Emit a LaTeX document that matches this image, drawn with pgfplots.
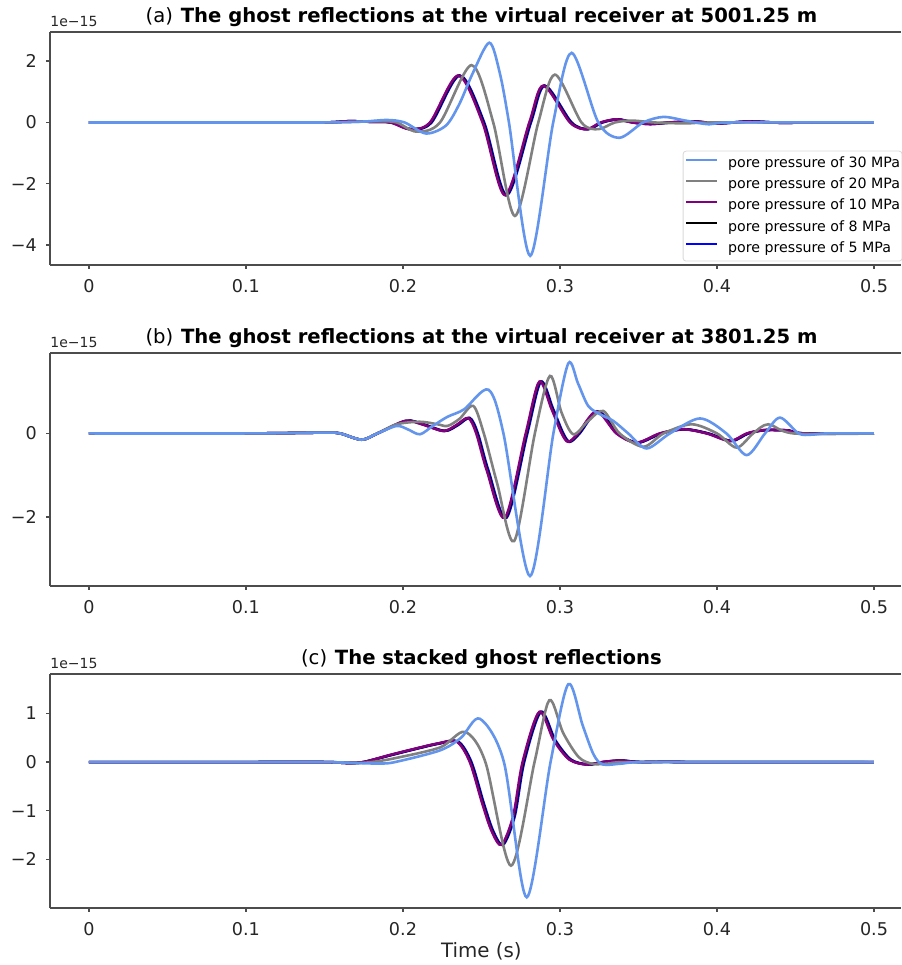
\documentclass[border=0pt]{standalone}
\usepackage{fontspec}
\setmainfont{DejaVu Sans}
\usepackage{pgfplots}
\pgfplotsset{compat=1.18}
\definecolor{cA}{RGB}{100,149,237}
\definecolor{cB}{RGB}{128,128,128}
\definecolor{cC}{RGB}{128,0,128}
\definecolor{cD}{RGB}{0,0,0}
\definecolor{cE}{RGB}{0,0,255}
\pgfplotsset{
  gw/.style={
    scale only axis, width=425.5pt, height=116.5pt,
    xmin=-0.0248, xmax=0.5172,
    axis x line*=box, axis y line*=left,
    xtick pos=left,
    tick align=outside, major tick length=1.8pt,
    axis line style={black!70, line width=0.7pt},
    every tick/.style={black!70, line width=0.7pt},
    xtick={0,0.1,0.2,0.3,0.4,0.5}, xticklabels={0,0.1,0.2,0.3,0.4,0.5},
    ticklabel style={font=\fontsize{8.8}{10}\selectfont, text=black!85},
    xticklabel style={yshift=-1.7pt},
    yticklabel style={xshift=-1.2pt},
    every axis plot/.append style={line width=1.3pt, smooth},
    clip mode=individual,
    every axis title shift=0pt,
    title style={at={(0.507,1)}, anchor=base, yshift=4.65pt, font=\fontsize{9.8}{11}\selectfont},
  }
}
\begin{document}
\begin{tikzpicture}
%% ---------------- (a)
\begin{axis}[gw, at={(25pt,350pt)}, anchor=south west,
  ymin=-4.65, ymax=2.95, ytick={-4,-2,0,2}, yticklabels={−4,−2,0,2},
  title={(a)\hspace{0.4em}\textbf{The ghost reflections at the virtual receiver at 5001.25 m}},
  reverse legend, legend cell align=left,
  legend style={at={(0.7435,0.4906)}, anchor=north west, draw=black!15, rounded corners=1.5pt, fill=white,
    font=\fontsize{7.1}{8}\selectfont, inner xsep=1pt, inner ysep=3pt, row sep=4pt, column sep=5pt,
    nodes={inner sep=0pt, text height=5.2pt, text depth=1.4pt}},
  legend image code/.code={\draw[#1, line width=1pt] (0pt,2pt) -- (15.5pt,2pt);}
]
\addplot[cE] coordinates {(0,0)(0.1,0)(0.15,0)(0.166,0.04)(0.181,0.02)(0.193,0)(0.2055,-0.22)(0.2182,0)(0.2362,1.53)(0.2517,0)(0.266,-2.37)(0.2815,0)(0.2904,1.2)(0.3074,0)(0.318,-0.22)(0.327,0)(0.337,0.1)(0.347,0)(0.358,-0.05)(0.371,0)(0.386,0.03)(0.401,-0.03)(0.421,0.03)(0.441,-0.01)(0.461,0)(0.5,0)};
\addlegendentry{pore pressure of 5 MPa}
\addplot[cD] coordinates {(0,0)(0.1,0)(0.15,0)(0.1655,0.04)(0.1805,0.02)(0.1925,0)(0.205,-0.22)(0.2177,0)(0.2357,1.53)(0.2512,0)(0.2655,-2.37)(0.281,0)(0.2899,1.2)(0.3069,0)(0.3175,-0.22)(0.3265,0)(0.3365,0.1)(0.3465,0)(0.3575,-0.05)(0.3705,0)(0.3855,0.03)(0.4005,-0.03)(0.4205,0.03)(0.4405,-0.01)(0.4605,0)(0.5,0)};
\addlegendentry{pore pressure of 8 MPa}
\addplot[cC] coordinates {(0,0)(0.1,0)(0.15,0)(0.165,0.04)(0.18,0.02)(0.192,0)(0.2045,-0.22)(0.2172,0)(0.2352,1.53)(0.2507,0)(0.265,-2.37)(0.2805,0)(0.2894,1.2)(0.3064,0)(0.317,-0.22)(0.326,0)(0.336,0.1)(0.346,0)(0.357,-0.05)(0.37,0)(0.385,0.03)(0.4,-0.03)(0.42,0.03)(0.44,-0.01)(0.46,0)(0.5,0)};
\addlegendentry{pore pressure of 10 MPa}
\addplot[cB] coordinates {(0,0)(0.1,0)(0.15,0)(0.17,0.02)(0.185,0.04)(0.196,0)(0.2087,-0.3)(0.2236,0)(0.2437,1.87)(0.2575,0)(0.2713,-3.05)(0.2862,0)(0.2968,1.56)(0.3137,0)(0.3244,-0.22)(0.335,0)(0.346,0.06)(0.36,0)(0.38,-0.03)(0.4,0)(0.5,0)};
\addlegendentry{pore pressure of 20 MPa}
\addplot[cA] coordinates {(0,0)(0.1,0)(0.15,0)(0.175,0.03)(0.19,0.08)(0.201,0)(0.2147,-0.36)(0.2274,-0.1)(0.2359,0.6)(0.2444,1.6)(0.255,2.6)(0.2615,1.65)(0.2675,0)(0.281,-4.35)(0.2957,0)(0.3074,2.27)(0.3244,0)(0.3378,-0.5)(0.353,0)(0.3658,0.18)(0.38,0.06)(0.395,-0.06)(0.41,0)(0.5,0)};
\addlegendentry{pore pressure of 30 MPa}
\node[anchor=base west, font=\fontsize{7}{8}\selectfont, inner sep=0pt, yshift=2.6pt, text=black!85] at (rel axis cs:0,1) {1e−15};
\end{axis}
%% ---------------- (b)
\begin{axis}[gw, at={(25pt,189.5pt)}, anchor=south west,
  ymin=-3.66, ymax=1.93, ytick={-2,0}, yticklabels={−2,0},
  title={(b)\hspace{0.4em}\textbf{The ghost reflections at the virtual receiver at 3801.25 m}}]
\addplot[cE] coordinates {(0,0)(0.1,0)(0.15,0.02)(0.16,0)(0.1737,-0.15)(0.1837,0)(0.2023,0.3)(0.213,0.22)(0.2267,0.06)(0.235,0.2)(0.2426,0.37)(0.2477,0)(0.2545,-0.9)(0.266,-2.02)(0.2792,0)(0.2878,1.24)(0.2955,0.6)(0.3021,0)(0.3063,-0.2)(0.3125,0)(0.3243,0.53)(0.337,0)(0.3498,-0.22)(0.3646,0)(0.3795,0.1)(0.3945,0)(0.4093,-0.18)(0.42,0)(0.431,0.08)(0.446,0.07)(0.456,0)(0.5,0)};
\addplot[cD] coordinates {(0,0)(0.1,0)(0.15,0.02)(0.16,0)(0.1737,-0.15)(0.1837,0)(0.2018,0.3)(0.2125,0.22)(0.2262,0.06)(0.2345,0.2)(0.2421,0.37)(0.2472,0)(0.254,-0.9)(0.2655,-2.02)(0.2787,0)(0.2873,1.24)(0.295,0.6)(0.3016,0)(0.3058,-0.2)(0.312,0)(0.3238,0.53)(0.3365,0)(0.3493,-0.22)(0.3641,0)(0.379,0.1)(0.394,0)(0.4088,-0.18)(0.4195,0)(0.4305,0.08)(0.4455,0.07)(0.4555,0)(0.5,0)};
\addplot[cC] coordinates {(0,0)(0.1,0)(0.15,0.02)(0.16,0)(0.1737,-0.15)(0.1837,0)(0.2013,0.3)(0.212,0.22)(0.2257,0.06)(0.234,0.2)(0.2416,0.37)(0.2467,0)(0.2535,-0.9)(0.265,-2.02)(0.2782,0)(0.2868,1.24)(0.2945,0.6)(0.3011,0)(0.3053,-0.2)(0.3115,0)(0.3233,0.53)(0.336,0)(0.3488,-0.22)(0.3636,0)(0.3785,0.1)(0.3935,0)(0.4083,-0.18)(0.419,0)(0.43,0.08)(0.445,0.07)(0.455,0)(0.5,0)};
\addplot[cB] coordinates {(0,0)(0.1,0)(0.15,0.02)(0.16,0)(0.1737,-0.15)(0.1837,0)(0.196,0.22)(0.2108,0.28)(0.222,0.22)(0.2284,0.18)(0.236,0.35)(0.2448,0.66)(0.2515,0)(0.26,-1.2)(0.2709,-2.58)(0.284,0)(0.2936,1.38)(0.301,0.5)(0.3085,-0.02)(0.318,0.3)(0.3276,0.54)(0.338,0)(0.3531,-0.32)(0.366,0)(0.3838,0.22)(0.4,0)(0.4125,-0.34)(0.423,0)(0.4327,0.22)(0.4488,0)(0.5,0)};
\addplot[cA] coordinates {(0,0)(0.1,0)(0.15,0.02)(0.16,0)(0.1737,-0.15)(0.1837,0)(0.196,0.18)(0.203,0.1)(0.2108,-0.02)(0.219,0.18)(0.2284,0.4)(0.239,0.58)(0.2544,1.05)(0.264,0)(0.2809,-3.42)(0.2958,0)(0.3053,1.68)(0.3115,1.2)(0.318,0.66)(0.326,0.45)(0.334,0.3)(0.3435,0)(0.3552,-0.36)(0.37,0)(0.3892,0.36)(0.406,0)(0.4189,-0.52)(0.4306,0)(0.4401,0.38)(0.452,0)(0.46,-0.03)(0.47,0)(0.5,0)};
\node[anchor=base west, font=\fontsize{7}{8}\selectfont, inner sep=0pt, yshift=2.6pt, text=black!85] at (rel axis cs:0,1) {1e−15};
\end{axis}
%% ---------------- (c)
\begin{axis}[gw, at={(25pt,28.5pt)}, anchor=south west, height=117pt,
  ymin=-3.0, ymax=1.81, ytick={-2,-1,0,1}, yticklabels={−2,−1,0,1},
  title={(c)\hspace{0.4em}\textbf{The stacked ghost reflections}},
  xlabel={Time (s)}, xlabel style={at={(0.507,0)}, anchor=base, yshift=-24.65pt, font=\fontsize{9.9}{11}\selectfont, text=black!85}]
\addplot[cE] coordinates {(0,0)(0.1,0)(0.15,0)(0.165,-0.02)(0.175,0)(0.1921,0.14)(0.2082,0.27)(0.223,0.38)(0.2352,0.42)(0.2436,0)(0.2515,-0.85)(0.2575,-1.42)(0.2638,-1.7)(0.2712,-1.11)(0.2772,0)(0.2878,1.03)(0.297,0.45)(0.307,0.05)(0.318,-0.05)(0.328,0)(0.339,0.03)(0.351,0)(0.371,0.01)(0.381,0)(0.5,0)};
\addplot[cD] coordinates {(0,0)(0.1,0)(0.15,0)(0.165,-0.02)(0.175,0)(0.1916,0.14)(0.2077,0.27)(0.2225,0.38)(0.2347,0.42)(0.2431,0)(0.251,-0.85)(0.257,-1.42)(0.2633,-1.7)(0.2707,-1.11)(0.2767,0)(0.2873,1.03)(0.2965,0.45)(0.3065,0.05)(0.3175,-0.05)(0.3275,0)(0.3385,0.03)(0.3505,0)(0.3705,0.01)(0.3805,0)(0.5,0)};
\addplot[cC] coordinates {(0,0)(0.1,0)(0.15,0)(0.165,-0.02)(0.175,0)(0.1911,0.14)(0.2072,0.27)(0.222,0.38)(0.2342,0.42)(0.2426,0)(0.2505,-0.85)(0.2565,-1.42)(0.2628,-1.7)(0.2702,-1.11)(0.2762,0)(0.2868,1.03)(0.296,0.45)(0.306,0.05)(0.317,-0.05)(0.327,0)(0.338,0.03)(0.35,0)(0.37,0.01)(0.38,0)(0.5,0)};
\addplot[cB] coordinates {(0,0)(0.1,0)(0.15,0)(0.17,-0.02)(0.18,0)(0.195,0.08)(0.2236,0.3)(0.2395,0.62)(0.2525,0)(0.2688,-2.13)(0.2838,0)(0.2932,1.27)(0.302,0.6)(0.312,0.1)(0.3214,-0.04)(0.335,-0.02)(0.35,0)(0.5,0)};
\addplot[cA] coordinates {(0,0)(0.1,0)(0.15,0)(0.17,-0.02)(0.185,-0.03)(0.195,0)(0.2236,0.24)(0.237,0.5)(0.249,0.89)(0.2643,0)(0.2788,-2.78)(0.294,0)(0.3053,1.6)(0.3145,0.75)(0.3215,0.15)(0.3275,-0.05)(0.34,-0.03)(0.36,0)(0.5,0)};
\node[anchor=base west, font=\fontsize{7}{8}\selectfont, inner sep=0pt, yshift=2.6pt, text=black!85] at (rel axis cs:0,1) {1e−15};
\end{axis}
\pgfresetboundingbox
\useasboundingbox (0,0) rectangle (450.5pt,482.5pt);
\end{tikzpicture}
\end{document}
